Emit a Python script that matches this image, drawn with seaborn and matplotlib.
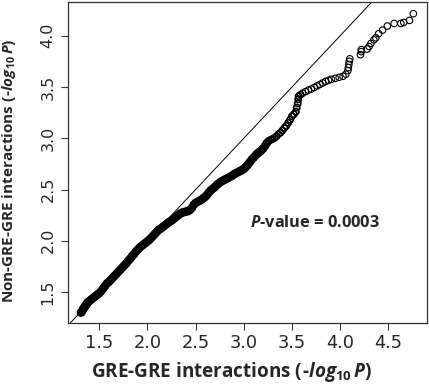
import matplotlib
matplotlib.use("Agg")
import matplotlib.pyplot as plt
import seaborn as sns
import pandas as pd

# GRE-GRE interactions (-log10 P), observed on x
gre_x = [
    1.31, 1.32, 1.33, 1.34, 1.35, 1.36, 1.37, 1.38, 1.40, 1.42, 1.44, 1.46, 1.48, 1.50,
    1.52, 1.54, 1.56, 1.58, 1.60, 1.62, 1.64, 1.66, 1.68, 1.70, 1.72, 1.74, 1.76, 1.78,
    1.80, 1.82, 1.84, 1.86, 1.88, 1.90, 1.92, 1.94, 1.96, 1.98, 2.00, 2.02, 2.04, 2.06,
    2.08, 2.10, 2.12, 2.14,
    2.16, 2.18, 2.20, 2.22, 2.24, 2.26, 2.28, 2.30, 2.32, 2.34, 2.36, 2.38, 2.40, 2.42,
    2.44, 2.46, 2.48, 2.50, 2.52, 2.54, 2.56, 2.58, 2.60, 2.62, 2.64, 2.66, 2.68, 2.70,
    2.72, 2.74, 2.76, 2.78, 2.80, 2.82, 2.84, 2.86, 2.88, 2.90, 2.92, 2.94, 2.96, 2.98,
    3.00, 3.02, 3.04, 3.06, 3.08, 3.10, 3.12, 3.14, 3.16, 3.18, 3.20, 3.22, 3.24, 3.26,
    3.28, 3.30, 3.32, 3.34, 3.36, 3.38, 3.40, 3.42, 3.44, 3.46, 3.48, 3.50, 3.52, 3.54,
    3.55, 3.56, 3.565, 3.57, 3.59, 3.61, 3.64, 3.67, 3.70, 3.73, 3.76, 3.79, 3.82, 3.85,
    3.88, 3.91, 3.95, 3.99, 4.03, 4.06, 4.08, 4.085, 4.09, 4.095, 4.10,
    4.21, 4.22, 4.22, 4.28, 4.30, 4.32, 4.35, 4.37, 4.40, 4.44, 4.49, 4.56, 4.63, 4.66,
    4.72, 4.76,
]
# Non-GRE-GRE interactions (-log10 P), on y
non_gre_y = [
    1.30, 1.31, 1.33, 1.345, 1.36, 1.37, 1.385, 1.40, 1.415, 1.43, 1.445, 1.46, 1.475, 1.49,
    1.51, 1.535, 1.56, 1.585, 1.60, 1.62, 1.64, 1.66, 1.68, 1.70, 1.72, 1.74, 1.76, 1.78,
    1.805, 1.825, 1.85, 1.87, 1.895, 1.915, 1.935, 1.95, 1.965, 1.98, 1.995, 2.01, 2.03, 2.05,
    2.07, 2.09, 2.11, 2.12,
    2.135, 2.15, 2.165, 2.18, 2.19, 2.205, 2.22, 2.235, 2.25, 2.265, 2.275, 2.28, 2.285, 2.29,
    2.30, 2.32, 2.35, 2.37, 2.38, 2.39, 2.40, 2.415, 2.43, 2.45, 2.475, 2.495, 2.51, 2.525,
    2.545, 2.56, 2.575, 2.585, 2.595, 2.605, 2.615, 2.625, 2.635, 2.65, 2.66, 2.67, 2.68, 2.69,
    2.70, 2.72, 2.74, 2.765, 2.79, 2.81, 2.83, 2.85, 2.865, 2.88, 2.90, 2.925, 2.955, 2.975,
    2.985, 2.995, 3.005, 3.02, 3.04, 3.055, 3.075, 3.10, 3.12, 3.15, 3.18, 3.215, 3.235, 3.26,
    3.30, 3.34, 3.38, 3.41, 3.425, 3.44, 3.455, 3.47, 3.48, 3.495, 3.51, 3.525, 3.54, 3.555,
    3.565, 3.575, 3.585, 3.595, 3.605, 3.625, 3.66, 3.69, 3.72, 3.75, 3.775,
    3.815, 3.845, 3.865, 3.87, 3.895, 3.925, 3.96, 3.98, 4.02, 4.055, 4.095, 4.12, 4.12, 4.13,
    4.15, 4.215,
]
x_ticks = [1.5, 2.0, 2.5, 3.0, 3.5, 4.0, 4.5]
y_ticks = [1.5, 2.0, 2.5, 3.0, 3.5, 4.0]
p_value_text = "0.0003"

df = pd.DataFrame({"x": gre_x, "y": non_gre_y})

sns.set_style("white")
plt.rcParams["font.family"] = ["DejaVu Sans"]
plt.rcParams["mathtext.fontset"] = "custom"
plt.rcParams["mathtext.it"] = "Open Sans:italic:bold"
plt.rcParams["mathtext.rm"] = "Open Sans:bold"
plt.rcParams["mathtext.bf"] = "Open Sans:bold"

fig = plt.figure(figsize=(4.29, 3.84), dpi=100)
ax = fig.add_axes([0.1585, 0.158, 0.8365, 0.837])

ax.axline((2.0, 2.0), slope=1, color="black", lw=0.7, zorder=1)

# overlapping points: heavier outlines where the points are densely packed
tiers = [
    (df["x"] < 3.25, 17, 2.1),
    ((df["x"] >= 3.25) & (df["x"] < 3.6), 20, 1.2),
    (df["x"] >= 3.6, 22, 0.8),
]
for mask, size, lw in tiers:
    sns.scatterplot(data=df[mask], x="x", y="y", ax=ax, marker="o", s=size,
                    facecolor="none", edgecolor="black", linewidth=lw, zorder=2)

ax.set_xlim(1.175, 4.90)
ax.set_ylim(1.195, 4.33)
ax.set_xticks(x_ticks)
ax.set_yticks(y_ticks)
ax.set_xticklabels([f"{t:.1f}" for t in x_ticks], fontsize=12.8, family="DejaVu Sans")
ax.set_yticklabels([f"{t:.1f}" for t in y_ticks], fontsize=11.5, family="DejaVu Sans",
                   rotation=90, va="center")
ax.tick_params(axis="both", direction="out", length=5, width=0.8, color="#333333",
               bottom=True, left=True)
ax.tick_params(axis="x", pad=3.0)
ax.tick_params(axis="y", pad=4.0)
for sp in ax.spines.values():
    sp.set_color("#333333")
    sp.set_linewidth(0.9)

ax.set_xlabel(r"GRE-GRE interactions (-$\mathit{log}_{\mathit{10}}\,\mathit{P}$)",
              fontsize=13.6, fontweight="bold", family="Open Sans")
ax.set_ylabel(r"Non-GRE-GRE interactions (-$\mathit{log}_{\mathit{10}}\,\mathit{P}$)",
              fontsize=11, fontweight="bold", family="Open Sans")
ax.xaxis.set_label_coords(0.455, -0.115)
ax.yaxis.set_label_coords(-0.14, 0.474)

ax.text(3.06, 2.175, r"$\mathit{P}$-value = " + p_value_text, fontsize=11.8,
        fontweight="bold", family="Open Sans", va="center", ha="left")

fig.savefig("out.png", dpi=100)
